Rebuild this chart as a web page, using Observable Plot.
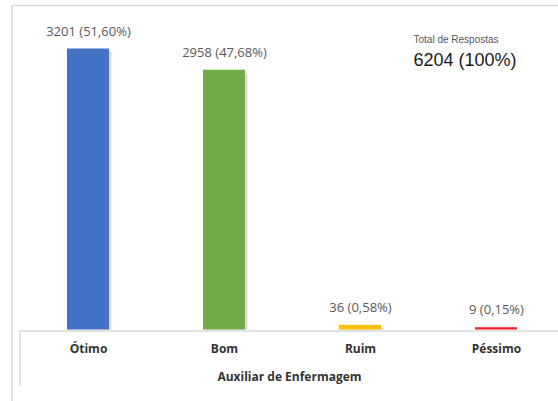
<!DOCTYPE html>
<html>
<head>
<meta charset="utf-8">
<script src="https://cdn.jsdelivr.net/npm/d3@7"></script>
<script src="https://cdn.jsdelivr.net/npm/@observablehq/plot@0.6"></script>
<style>
  html, body { margin: 0; padding: 0; background: #fff; }
  svg { display: block; }
</style>
</head>
<body>
<div id="chart"></div>
<script>
const categories = ["Ótimo", "Bom", "Ruim", "Péssimo"];
const counts = [3201, 2958, 36, 9];
const percents = ["51,60%", "47,68%", "0,58%", "0,15%"];
const colors = ["#4472C4", "#70AD47", "#FFC000", "#F0212B"];
const axisTitle = "Auxiliar de Enfermagem";
const totalTitle = "Total de Respostas";
const totalValue = "6204 (100%)";

const data = categories.map((c, i) => ({
  cat: c, n: counts[i], pct: percents[i], color: colors[i],
  label: `${counts[i]} (${percents[i]})`
}));

const W = 558, H = 401;
const chart = Plot.plot({
  width: W,
  height: H,
  marginTop: 50,
  marginBottom: 71.5,
  marginLeft: 20,
  marginRight: 0,
  style: { background: "#fff", fontFamily: "'Open Sans', sans-serif", overflow: "visible" },
  x: { domain: categories, range: [20, 565], paddingInner: 0.69, paddingOuter: 0.345 },
  y: { domain: [0, d3.max(counts)], axis: null },
  marks: [
    Plot.ruleY([0], { stroke: "#d9d9d9", strokeWidth: 1.5, dy: 1 }),
    Plot.barY(data, { x: "cat", y: "n", fill: "#8c8c8c", fillOpacity: 0.3, dx: 2.5, dy: 0, insetTop: 1.5 }),
    Plot.barY(data, { x: "cat", y: "n", fill: "color", insetTop: -1.5 }),
    Plot.text(data, { x: "cat", y: "n", text: "label", dy: -19, fontSize: 13, fill: "#595959", fontFamily: "'Open Sans', sans-serif" }),
    Plot.axisX({ tickSize: 0, tickPadding: 14, fontSize: 12, fontWeight: "bold", color: "#333", label: null, fontFamily: "'Open Sans', sans-serif" }),
    Plot.text([axisTitle], { frameAnchor: "bottom", dy: 50.5, fontSize: 12, fontWeight: "bold", fill: "#333", fontFamily: "'Open Sans', sans-serif" }),
    Plot.text([totalTitle], { frameAnchor: "top-left", dx: 393, dy: -15, textAnchor: "start", fontSize: 10, fill: "#555", fontFamily: "'Liberation Sans', Arial, sans-serif" }),
    Plot.text([totalValue], { frameAnchor: "top-left", dx: 393, dy: 3, textAnchor: "start", fontSize: 18, fill: "#1a1a1a", fontFamily: "'Liberation Sans', Arial, sans-serif" })
  ]
});

// decorative chart-area borders (Excel style)
const svg = d3.select(chart);
svg.append("line").attr("x1", 12).attr("x2", W).attr("y1", 5.5).attr("y2", 5.5)
  .attr("stroke", "#d9d9d9").attr("stroke-width", 1.5);
svg.append("line").attr("x1", 12).attr("x2", 12).attr("y1", 5).attr("y2", H)
  .attr("stroke", "#d9d9d9").attr("stroke-width", 1.5);
svg.append("line").attr("x1", 20).attr("x2", 20).attr("y1", 330).attr("y2", 386)
  .attr("stroke", "#d9d9d9").attr("stroke-width", 1.5);

document.getElementById("chart").appendChild(chart);
</script>
</body>
</html>
